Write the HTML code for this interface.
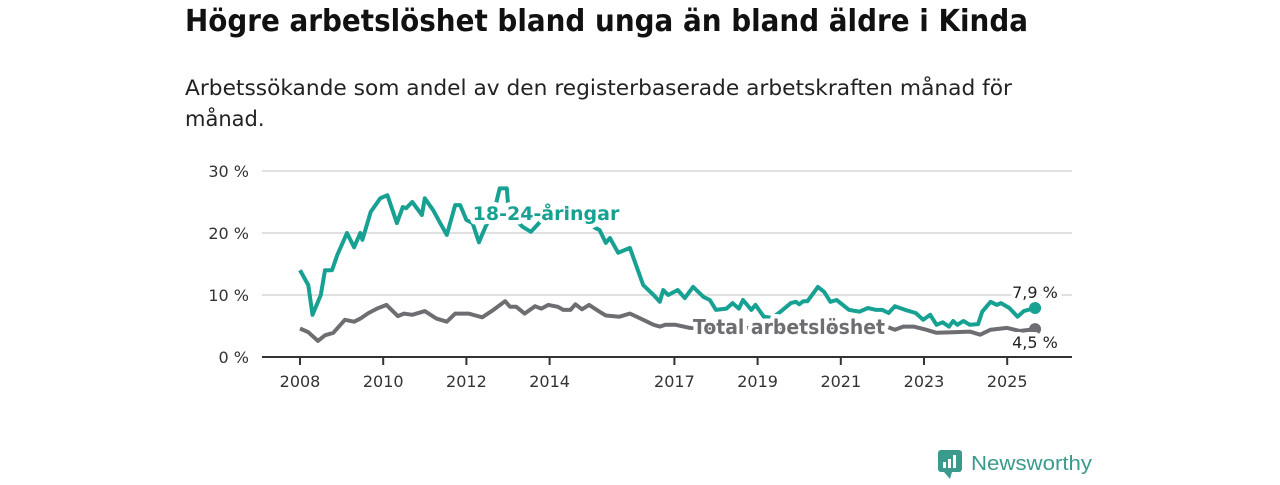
<!DOCTYPE html>
<html><head><meta charset="utf-8"><style>
body{margin:0;background:#fff;width:1280px;height:480px;overflow:hidden}
svg{font-family:"DejaVu Sans","Liberation Sans",sans-serif}
.halo{paint-order:stroke;stroke:#fff;stroke-width:9px;stroke-linejoin:round}
</style></head><body>
<svg id="chart" width="1280" height="480">
<text x="185" y="31" font-size="30" font-weight="bold" fill="#111" textLength="843" lengthAdjust="spacingAndGlyphs">Högre arbetslöshet bland unga än bland äldre i Kinda</text>
<text x="185" y="95" font-size="21" fill="#222" textLength="827" lengthAdjust="spacingAndGlyphs">Arbetssökande som andel av den registerbaserade arbetskraften månad för</text>
<text x="185" y="126" font-size="21" fill="#222">månad.</text>
<g id="grid"></g><g id="axes"></g><g id="series"></g><g id="labels"></g>
<g>
<rect x="938" y="450" width="24" height="22" rx="3" fill="#3a9a8c"/>
<path d="M944 472 L950 479 L952 472Z" fill="#3a9a8c"/>
<rect x="943" y="462" width="3" height="6" fill="#fff"/><rect x="948" y="459" width="3" height="9" fill="#fff"/><rect x="953" y="455" width="3" height="13" fill="#fff"/>
<text x="971" y="470" font-size="20" fill="#3a9a8c" font-family="Liberation Sans, sans-serif" textLength="121" lengthAdjust="spacingAndGlyphs">Newsworthy</text>
</g>
</svg>
<script>
const yTicks=[0,10,20,30];
const yTickLabels=["0 %","10 %","20 %","30 %"];
const xTicks=[2008,2010,2012,2014,2017,2019,2021,2023,2025];
const youngT=[2008.0,2008.2,2008.3,2008.5,2008.6,2008.77,2008.9,2009.13,2009.3,2009.45,2009.5,2009.7,2009.93,2010.1,2010.33,2010.47,2010.55,2010.7,2010.93,2011.0,2011.2,2011.37,2011.53,2011.73,2011.85,2012.0,2012.15,2012.3,2012.47,2012.65,2012.8,2012.97,2013.0,2013.2,2013.35,2013.55,2013.8,2014.1,2014.4,2014.7,2014.95,2015.1,2015.2,2015.35,2015.45,2015.65,2015.93,2016.25,2016.5,2016.65,2016.73,2016.85,2017.08,2017.25,2017.45,2017.7,2017.85,2018.0,2018.25,2018.4,2018.55,2018.65,2018.85,2018.95,2019.15,2019.35,2019.55,2019.8,2019.92,2020.0,2020.1,2020.2,2020.45,2020.6,2020.75,2020.9,2021.2,2021.45,2021.65,2021.85,2022.0,2022.15,2022.3,2022.55,2022.8,2022.98,2023.15,2023.3,2023.45,2023.6,2023.7,2023.8,2023.95,2024.1,2024.3,2024.4,2024.6,2024.75,2024.85,2025.05,2025.25,2025.4,2025.55,2025.67];
const youngV=[14.0,11.6,6.8,10,14,14,16.5,20,17.7,20,18.9,23.4,25.6,26.1,21.6,24.2,24,25,22.9,25.6,23.7,21.6,19.7,24.5,24.5,22.1,21.6,18.5,21.2,23,27.2,27.2,24.7,22,21,20.2,22,22.5,22.5,22,21.5,20.8,20.5,18.4,19.2,16.8,17.6,11.6,10,8.9,10.8,10,10.8,9.5,11.3,9.7,9.2,7.6,7.8,8.7,7.8,9.2,7.6,8.4,6.5,6.3,7.3,8.7,8.9,8.5,9,9,11.3,10.5,8.9,9.2,7.6,7.3,7.9,7.6,7.6,7.1,8.2,7.6,7.1,6.0,6.8,5.2,5.6,4.9,5.8,5.2,5.8,5.2,5.3,7.3,8.9,8.4,8.7,7.9,6.5,7.4,7.7,7.9];
const totalT=[2008.0,2008.2,2008.43,2008.6,2008.8,2009.08,2009.3,2009.45,2009.65,2009.85,2010.08,2010.35,2010.5,2010.7,2011.0,2011.28,2011.53,2011.73,2012.05,2012.38,2012.65,2012.93,2013.05,2013.2,2013.4,2013.65,2013.8,2013.97,2014.2,2014.33,2014.5,2014.62,2014.78,2014.95,2015.2,2015.35,2015.68,2015.93,2016.25,2016.5,2016.65,2016.78,2017.03,2017.37,2018.0,2019.0,2020.0,2021.0,2022.1,2022.3,2022.5,2022.75,2023.05,2023.3,2023.7,2024.1,2024.35,2024.6,2025.0,2025.3,2025.67];
const totalV=[4.6,4.0,2.6,3.5,3.9,6.0,5.7,6.2,7.1,7.8,8.4,6.6,7,6.8,7.4,6.2,5.7,7,7,6.4,7.6,9.0,8.1,8.1,7,8.2,7.8,8.4,8.1,7.6,7.6,8.5,7.7,8.4,7.3,6.7,6.5,7.0,6.0,5.2,4.9,5.2,5.2,4.7,4.6,4.7,4.8,4.8,4.9,4.4,4.9,4.9,4.4,3.9,4.0,4.1,3.6,4.4,4.7,4.2,4.5];
const NS="http://www.w3.org/2000/svg";
const X0=262,X1=1072;
function xs(t){return 300+(t-2008)*41.6;}
function ys(v){return 357-v*6.2;}
function mk(tag,attrs,parent){const e=document.createElementNS(NS,tag);for(const k in attrs)e.setAttribute(k,attrs[k]);parent.appendChild(e);return e;}
const grid=document.getElementById('grid'),axes=document.getElementById('axes'),series=document.getElementById('series'),labels=document.getElementById('labels');
yTicks.forEach((v,i)=>{
  if(v>0){const g=mk('line',{x1:X0,x2:X1,y1:ys(v),y2:ys(v),stroke:'#d6d6d6','stroke-width':1.5},grid);
  
  }
  const t=mk('text',{x:249,y:ys(v)+6,'text-anchor':'end','font-size':16,fill:'#333'},axes);t.textContent=yTickLabels[i];
  
  
});
const ax=mk('line',{x1:X0,x2:X1,y1:357,y2:357,stroke:'#333','stroke-width':2},axes);


xTicks.forEach(y=>{
  mk('line',{x1:xs(y),x2:xs(y),y1:357,y2:365,stroke:'#333','stroke-width':2},axes);
  const t=mk('text',{x:xs(y),y:387,'text-anchor':'middle','font-size':16,fill:'#333'},axes);t.textContent=y;
  
  
});
function path(T,V){return T.map((t,i)=>(i?'L':'M')+xs(t).toFixed(1)+' '+ys(V[i]).toFixed(1)).join(' ');}
const tl=mk('path',{d:path(totalT,totalV),fill:'none',stroke:'#6e6d72','stroke-width':4,'stroke-linejoin':'round'},series);


const yl=mk('path',{d:path(youngT,youngV),fill:'none',stroke:'#17a192','stroke-width':4,'stroke-linejoin':'round'},series);


const tLast=totalT.length-1,yLast=youngT.length-1;
const d1=mk('circle',{cx:xs(youngT[yLast]),cy:ys(youngV[yLast]),r:6,fill:'#17a192'},series);


const d2=mk('circle',{cx:xs(totalT[tLast]),cy:ys(totalV[tLast]),r:6,fill:'#6e6d72'},series);


function lab(txt,x,y,attrs,name){const t=mk('text',Object.assign({x:x,y:y},attrs),labels);t.textContent=txt;
  
  }
lab('18-24-åringar',546,220,{'text-anchor':'middle','font-size':19,'font-weight':'bold',fill:'#17a192',class:'halo'},'young-series-label');
lab('Total arbetslöshet',693,334,{'font-size':20,'font-weight':'bold',fill:'#6e6d72',class:'halo',textLength:192,lengthAdjust:'spacingAndGlyphs'},'total-series-label');
lab(youngV[yLast].toFixed(1).replace('.',',')+' %',1035,298,{'text-anchor':'middle','font-size':16,fill:'#222',class:'halo'},'young-end-value');
lab(totalV[tLast].toFixed(1).replace('.',',')+' %',1035,348,{'text-anchor':'middle','font-size':16,fill:'#222',class:'halo'},'total-end-value');
</script>
</body></html>
